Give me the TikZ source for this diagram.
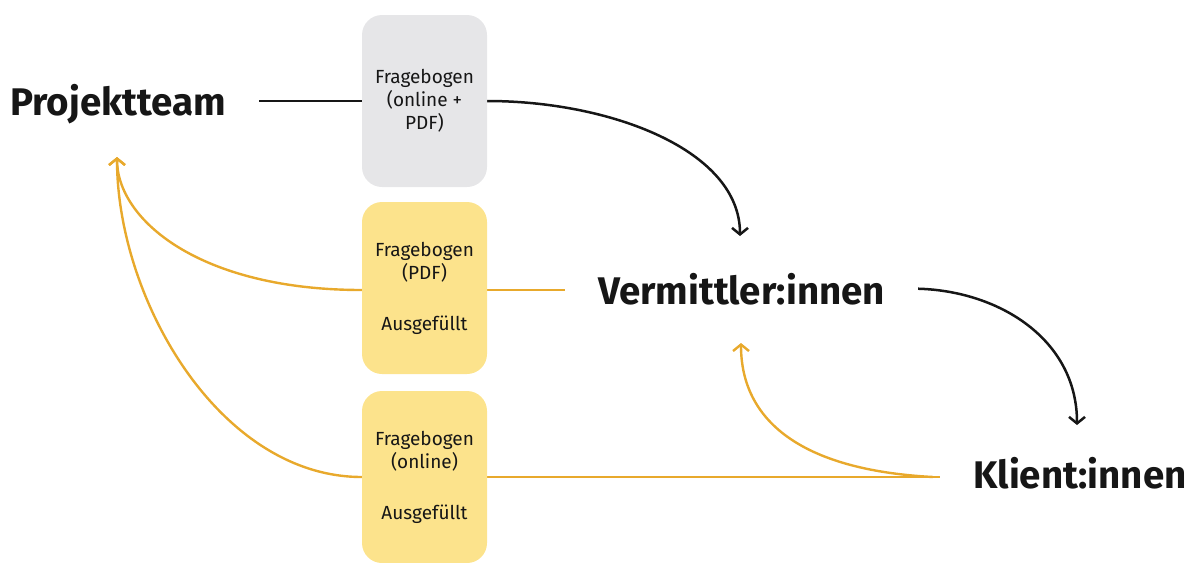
\documentclass[tikz,border=0pt]{standalone}
\usepackage{fontspec}
\setmainfont{Fira Sans}
\usetikzlibrary{arrows.meta}
\definecolor{gold}{HTML}{E8A92C}
\definecolor{boxyellow}{HTML}{FCE38C}
\definecolor{boxgray}{HTML}{E6E6E8}
\definecolor{ink}{HTML}{161616}
\pgfdeclarelayer{bg}\pgfsetlayers{bg,main}
\begin{document}
\begin{tikzpicture}[x=1pt,y=-1pt,
  actor/.style={font=\fontsize{38.5}{44}\selectfont\bfseries, text=ink, inner sep=0pt, anchor=base west},
  card/.style={rounded corners=20pt, minimum width=125pt, minimum height=172pt, inner sep=0pt,
               align=center, font=\fontsize{19}{23}\selectfont, text=ink},
  flow/.style={line width=2.5pt, draw=ink},
  back/.style={line width=2.4pt, draw=gold},
  tip/.style={-{Straight Barb[length=6.5pt,width=16pt]}}
]
\useasboundingbox (0,0) rectangle (1193,562);

% actors
\node[actor] (pt) at (10,115) {Projektteam};
\node[actor] (verm) at (598,304) {Vermittler:innen};
\node[actor] (kl) at (973,488) {Klient:innen};

% cards
\node[card, fill=boxgray] (gray) at (424.5,101) {Fragebogen\\(online +\\PDF)};
\node[card, fill=boxyellow] (y1) at (424.5,288) {Fragebogen\\(PDF)\\[28pt]Ausgefüllt};
\node[card, fill=boxyellow] (y2) at (424.5,477) {Fragebogen\\(online)\\[28pt]Ausgefüllt};

% arrow tips
\coordinate (vtop) at (740,236);
\coordinate (vbot) at (741,343);
\coordinate (ktip) at (1077,425);
\coordinate (ptip) at (117,157);

\begin{pgfonlayer}{bg}
  % black flow
  \draw[flow] ([xshift=33pt]gray.west -| pt.east) -- (gray.west);
  \draw[flow, tip] (gray.east) .. controls (610,101) and (740,150) .. (vtop);
  \draw[flow, tip] ([xshift=33pt]verm.east) .. controls (1000,291) and (1077,340) .. (ktip);
  % gold returns
  \draw[back] ([yshift=-2pt]y1.east) -- ([xshift=-33pt,yshift=-2pt]y1.east -| verm.west);
  \draw[back, tip] ([yshift=-2pt]y1.west) .. controls (200,290) and (117,220) .. (ptip);
  \draw[back] (y2.east) -- ([xshift=-33pt]y2.east -| kl.west);
  \draw[back, tip] (y2.west) .. controls (220,477) and (117,300) .. (ptip);
  \draw[back, tip] ([xshift=-40pt]y2.east -| kl.west) .. controls (800,470) and (741,420) .. (vbot);
\end{pgfonlayer}
\end{tikzpicture}
\end{document}
